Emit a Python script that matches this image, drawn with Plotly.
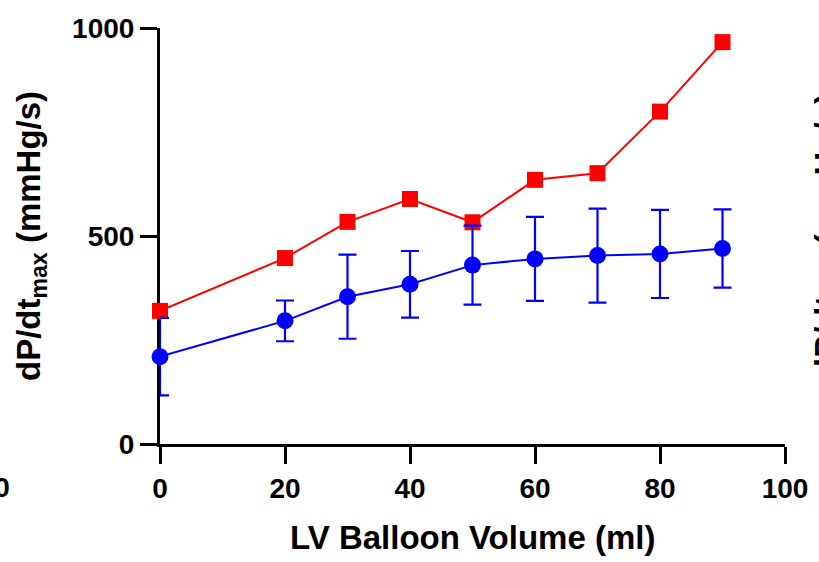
import plotly.graph_objects as go

volume_ml = [0, 20, 30, 40, 50, 60, 70, 80, 90]
red_values = [320, 447, 534, 589, 533, 635, 651, 799, 966]
blue_values = [210, 296, 354, 384, 430, 445, 453, 457, 470]
blue_errors = [93, 49, 101, 80, 95, 101, 113, 106, 94]

x_ticks = [0, 20, 40, 60, 80, 100]
y_ticks = [0, 500, 1000]

FONT = "Liberation Sans, Arial, Helvetica, sans-serif"

fig = go.Figure()
fig.add_trace(go.Scatter(
    x=volume_ml, y=red_values, mode="lines+markers",
    line=dict(color="#ff0000", width=2),
    marker=dict(symbol="square", size=16, color="#ff0000"),
    cliponaxis=False, showlegend=False,
))
fig.add_trace(go.Scatter(
    x=volume_ml, y=blue_values, mode="lines+markers",
    line=dict(color="#0000ff", width=2),
    marker=dict(symbol="circle", size=17, color="#0000ff"),
    error_y=dict(type="data", array=blue_errors, symmetric=True,
                 color="#0000ff", thickness=2.2, width=9),
    cliponaxis=False, showlegend=False,
))

axis_common = dict(
    showline=True, linewidth=3, linecolor="black",
    ticks="outside", ticklen=17, tickwidth=3, tickcolor="black",
    showgrid=False, zeroline=False, layer="below traces",
    tickfont=dict(family=FONT, size=28, color="black", weight=700),
)

fig.update_layout(
    width=819, height=562,
    margin=dict(l=160, r=34, t=28, b=118),
    paper_bgcolor="white", plot_bgcolor="white",
    xaxis=dict(range=[0, 100], tickvals=x_ticks, **axis_common),
    yaxis=dict(range=[0, 1000], tickvals=y_ticks, **axis_common),
    annotations=[
        dict(text="LV Balloon Volume (ml)", xref="paper", yref="paper",
             x=0.5, y=-0.2236, xanchor="center", yanchor="middle",
             showarrow=False,
             font=dict(family=FONT, size=33, color="black", weight=700)),
        dict(text="dP/dt<sub>max</sub> (mmHg/s)", xref="paper", yref="paper",
             x=(31 - 160) / 625, y=0.5, xanchor="center", yanchor="middle",
             textangle=-90, showarrow=False,
             font=dict(family=FONT, size=33, color="black", weight=700)),
        dict(text="dP/dt<sub>min</sub> (mmHg/s)", xref="paper", yref="paper",
             x=(829 - 160) / 625, y=0.5, xanchor="center", yanchor="middle",
             textangle=-90, showarrow=False,
             font=dict(family=FONT, size=33, color="black", weight=700)),
        dict(text="100", xref="paper", yref="paper",
             x=(-14 - 160) / 625, y=(444 - 487) / 416, xanchor="center",
             yanchor="middle", showarrow=False,
             font=dict(family=FONT, size=28, color="black", weight=700)),
    ],
)

fig.write_html(
    "out.html",
    config={"displayModeBar": False},
    post_script="document.body.style.margin='0';document.body.style.overflow='hidden';",
)
